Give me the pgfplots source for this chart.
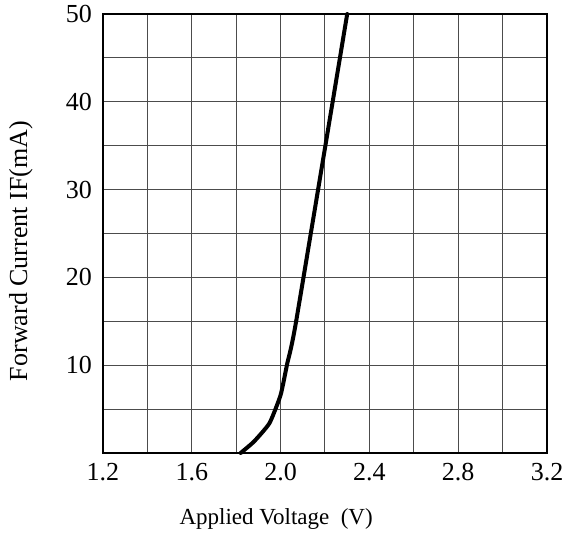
\documentclass[border=0pt]{standalone}
\usepackage{fontspec}
\setmainfont{Liberation Serif}
\usepackage{pgfplots}
\pgfplotsset{compat=1.18}

\begin{document}
\begin{tikzpicture}
\useasboundingbox (-51.5pt,-40pt) rectangle (232pt,226.5pt);
\begin{axis}[
    at={(0,0)}, anchor=south west,
    scale only axis,
    width=222pt, height=219.5pt,
    xmin=1.2, xmax=3.2,
    ymin=0, ymax=50,
    xtick={1.2,1.6,2.0,2.4,2.8,3.2},
    xticklabels={1.2,1.6,2.0,2.4,2.8,3.2},
    minor x tick num=1,
    ytick={0,10,20,30,40,50},
    yticklabels={,10,20,30,40,50},
    minor y tick num=1,
    grid=both,
    major grid style={black!70, line width=0.5pt},
    minor grid style={black!70, line width=0.5pt},
    major tick length=0pt, minor tick length=0pt,
    axis line style={black, line width=0.8pt},
    tick label style={font=\fontsize{13}{15}\selectfont},
    xticklabel style={yshift=-1.5pt},
    yticklabel style={xshift=-2pt},
    /pgf/number format/assume math mode=true,
    xlabel={Applied Voltage\ \ (V)},
    xlabel style={font=\fontsize{11.5}{13}\selectfont, at={(axis description cs:0.39,0)}, anchor=center, yshift=-33pt},
    ylabel={Forward Current IF(mA)},
    ylabel style={font=\fontsize{13}{15}\selectfont, at={(axis description cs:0,0.46)}, anchor=center, yshift=41pt},
    clip=false,
]
\addplot[black, line width=2pt, line join=round, line cap=round, smooth, tension=0.3] coordinates {
    (1.82,0)
    (1.88,1.3)
    (1.95,3.4)
    (2.00,6.6)
    (2.03,10.2)
    (2.07,15.0)
    (2.30,50.0)
};
\end{axis}
\end{tikzpicture}
\end{document}
